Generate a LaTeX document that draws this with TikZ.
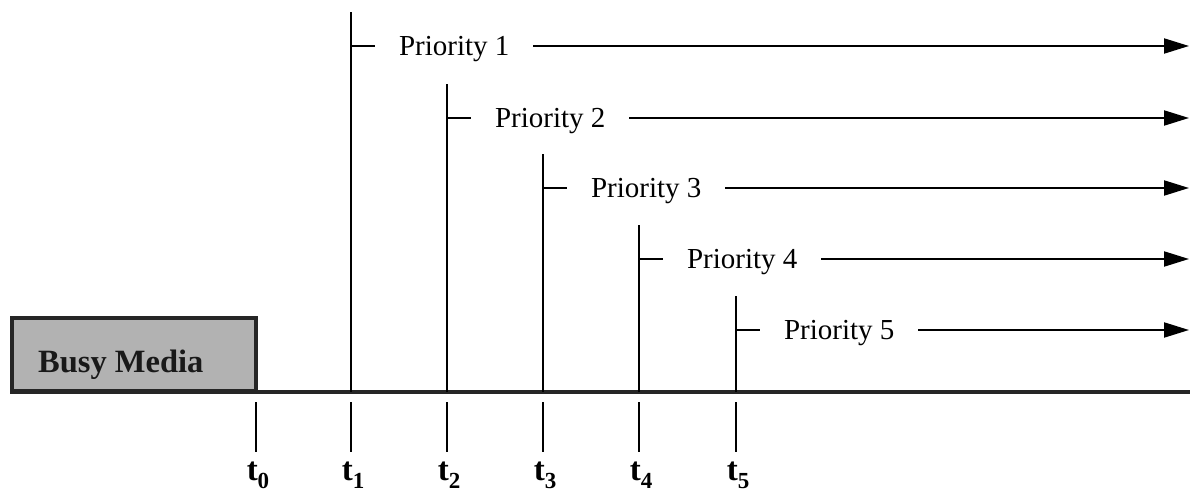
\documentclass[tikz,border=0pt]{standalone}
\usepackage{fontspec}
\setmainfont{Liberation Serif}
\usetikzlibrary{arrows.meta}
\begin{document}
\begin{tikzpicture}[x=1pt,y=-1pt,
  prio/.style={font=\fontsize{29}{30}\selectfont, inner sep=0pt, text height=19pt, text depth=0pt, outer xsep=24pt, anchor=west},
  tlab/.style={font=\fontsize{33}{34}\selectfont\bfseries, inner sep=0pt, anchor=base},
  vline/.style={line width=2.6pt},
  tick/.style={line width=2.8pt},
  stub/.style={line width=2pt},
  arr/.style={line width=2pt, -{Triangle[length=25pt,width=15pt]}},
  baseln/.style={line width=3.5pt, draw=black!85},
  busybox/.style={draw=black!85, line width=4pt, fill=black!30, minimum width=244pt, minimum height=73pt, inner sep=0pt},
  busytext/.style={font=\fontsize{32.5}{34}\selectfont\bfseries, text=black!90, inner sep=0pt, anchor=base west}
]
\useasboundingbox (0,0) rectangle (1190,494);
% busy media block
\node[busybox, anchor=south west] (busy) at (10,393) {};
\node[busytext] (busyt) at (38,372) {Busy Media};
% time axis
\coordinate (axl) at (10,392);
\coordinate (axr) at (1190,392);
\draw[baseln] (axl) -- (axr);
% ticks and labels
\foreach \i/\x in {0/256,1/351,2/447,3/543,4/639,5/736}{
  \coordinate (ka\i) at (\x,402);
  \coordinate (kb\i) at (\x,452);
  \draw[tick] (ka\i) -- (kb\i);
  \node[tlab] (t\i) at (\x+2,480) {t\raisebox{-8pt}{\fontsize{23}{23}\selectfont\bfseries\i}};
}
% priority lines
\foreach \i/\x/\top/\y in {1/351/12/46, 2/447/84/118, 3/543/154/188, 4/639/225/259, 5/736/296/330}{
  \coordinate (v\i) at (\x,392);
  \coordinate (vt\i) at (\x,\top);
  \draw[vline] (v\i) -- (vt\i);
  \coordinate (s\i) at (\x,\y);
  \node[prio] (p\i) at (\x+24,\y) {Priority \i};
  \draw[stub] (s\i) -- (p\i.west);
  \coordinate (e\i) at (1189,\y);
  \draw[arr] (p\i.east) -- (e\i);
}
\end{tikzpicture}
\end{document}
